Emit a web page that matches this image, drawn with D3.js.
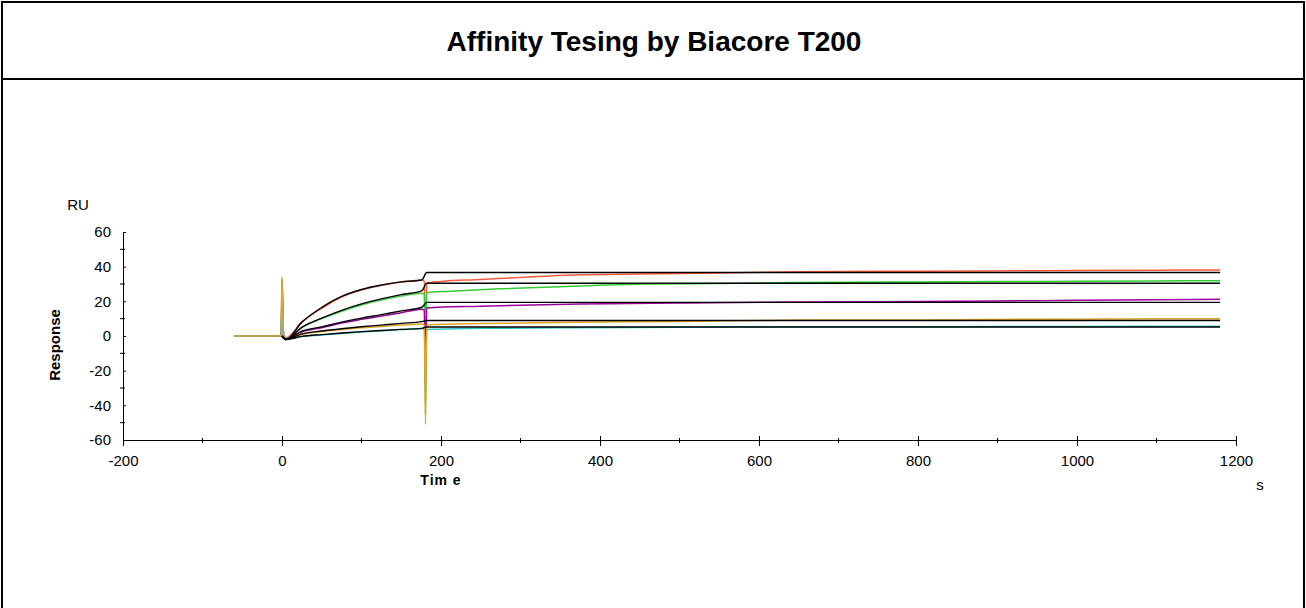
<!DOCTYPE html>
<html>
<head>
<meta charset="utf-8">
<script src="https://cdn.jsdelivr.net/npm/d3@7"></script>
<style>
  body { margin: 0; background: #fff; }
  svg { display: block; }
  text { font-family: "Liberation Sans", Arial, sans-serif; }
</style>
</head>
<body>
<div id="chart"></div>
<script>
// sensorgram traces [time s, response RU]
const redData = [[-60,0],[-1,0],[0,33],[2,1],[5,-1],[25,8],[50,16],[75,22.5],[100,26.5],[125,29.2],[150,31.1],[176,32.3],[179,31.5],[180.5,-12],[182,30.5],[200,31.5],[250,32.6],[300,33.8],[375,35.3],[450,35.8],[550,36.4],[651,37.1],[800,37.4],[950,37.7],[1100,38],[1180,38.1]];
const greenData = [[-60,0],[-1,0],[0,31],[2,0.5],[5,-1.5],[25,5],[50,10],[75,14.3],[100,17.9],[125,20.7],[150,23],[176,24.6],[179,24],[180.5,-45],[182,25],[212,25.8],[274,27.2],[375,28.8],[458,30],[550,30.3],[651,30.8],[800,31.2],[950,31.5],[1100,31.8],[1180,31.9]];
const purpleData = [[-60,0],[-1,0],[0,25],[2,0.5],[5,-1.5],[25,2.5],[50,4.8],[75,7.5],[100,9.6],[125,11.5],[150,13.4],[176,15.4],[179,15],[180.5,-25],[182,16.2],[250,17.2],[375,18.4],[500,19],[651,19.6],[800,19.9],[950,20.4],[1100,20.9],[1180,21.2]];
const orangeData = [[-60,0],[-1,0],[0,34],[2,0.5],[5,-1.5],[25,1],[50,2.6],[75,3.7],[100,4.7],[125,5.5],[150,6.3],[176,6.9],[179,6.5],[180.5,-51],[182,6.4],[250,7.2],[375,7.9],[500,8.4],[651,9.2],[800,9.3],[950,9.7],[1100,9.9],[1180,10]];
const cyanData = [[-60,0],[-1,0],[0,20],[2,0.3],[5,-1.5],[25,-0.3],[50,0.6],[75,1.5],[100,2.3],[125,3],[150,3.7],[176,4.3],[179,4],[180.5,-35],[182,3.8],[250,4.4],[375,4.8],[500,5],[651,5.4],[800,5.4],[950,5.5],[1100,5.6],[1180,5.6]];

// fitted curves
const redFit = [[0,0],[5,-2],[25,8],[50,16.5],[75,22.8],[100,26.8],[125,29.4],[150,31.2],[176,32.3],[182,36.6],[1180,36.6]];
const greenFit = [[0,0],[5,-2],[25,5],[50,10.3],[75,14.8],[100,18.5],[125,21.4],[150,23.9],[176,26],[182,30.4],[1180,30.4]];
const purpleFit = [[0,0],[5,-2],[25,2.8],[50,5.3],[75,8],[100,10.3],[125,12.3],[150,14.5],[176,16.6],[182,19.4],[1180,19.4]];
const orangeFit = [[0,0],[5,-2],[25,1.2],[50,2.9],[75,4.2],[100,5.3],[125,6.3],[150,7.3],[176,8.3],[182,8.9],[1180,8.9]];
const cyanFit = [[0,0],[5,-2],[25,-0.2],[50,0.8],[75,1.7],[100,2.5],[125,3.2],[150,3.8],[176,4.4],[182,5.2],[1180,5.2]];

const xTicks = [-200, 0, 200, 400, 600, 800, 1000, 1200];
const xMinor = [-100, 100, 300, 500, 700, 900, 1100];
const yTicks = [-60, -40, -20, 0, 20, 40, 60];
const yMinor = [-50, -30, -10, 10, 30, 50];

const traces = [
  { data: redData, color: "#ff5a3c" },
  { data: greenData, color: "#33cc33" },
  { data: purpleData, color: "#990099" },
  { data: cyanData, color: "#30c8c8" },
  { data: orangeData, color: "#e0a428" },
];
const fits = [redFit, greenFit, purpleFit, orangeFit, cyanFit];

const width = 1306, height = 608;
const svg = d3.select("#chart").append("svg")
  .attr("width", width).attr("height", height);

// frame
svg.append("path")
  .attr("d", `M2,${height} V2 H1304 V${height} M2,79 H1304`)
  .attr("fill", "none").attr("stroke", "#000").attr("stroke-width", 2);

svg.append("text")
  .attr("x", 654).attr("y", 51)
  .attr("text-anchor", "middle")
  .style("font-size", "28px").style("font-weight", "bold")
  .text("Affinity Tesing by Biacore T200");

const x = d3.scaleLinear().domain([-200, 1200]).range([123, 1236]);
const y = d3.scaleLinear().domain([-60, 60]).range([440, 232]);

// x axis
const gx = svg.append("g").attr("transform", `translate(0,${y(-60)})`);
gx.call(d3.axisBottom(x).tickValues(xTicks).tickSize(6).tickSizeOuter(0).tickPadding(9)
  .tickFormat(d => String(d)));
gx.selectAll(".tick line").attr("y1", -4);
gx.selectAll("text").style("font-size", "15px").attr("fill", "#000");
gx.selectAll(".domain").attr("stroke", "#000");
gx.append("g").selectAll("line").data(xMinor).join("line")
  .attr("x1", d => x(d)).attr("x2", d => x(d))
  .attr("y1", -2).attr("y2", 3).attr("stroke", "#000");

// y axis
const gy = svg.append("g").attr("transform", `translate(${x(-200)},0)`);
gy.call(d3.axisLeft(y).tickValues(yTicks).tickSize(7).tickSizeOuter(0).tickPadding(5)
  .tickFormat(d => String(d)));
gy.selectAll(".tick line").attr("x2", 3);
gy.selectAll("text").style("font-size", "15px").attr("fill", "#000");
gy.selectAll(".domain").attr("stroke", "#000");
gy.append("g").selectAll("line").data(yMinor).join("line")
  .attr("y1", d => y(d)).attr("y2", d => y(d))
  .attr("x1", -3).attr("x2", 2).attr("stroke", "#000");

// axis titles
svg.append("text").attr("x", 78).attr("y", 210).attr("text-anchor", "middle")
  .style("font-size", "15px").text("RU");
svg.append("text").attr("transform", "translate(60,345) rotate(-90)")
  .attr("text-anchor", "middle").style("font-size", "15px").style("font-weight", "bold")
  .text("Response");
svg.append("text").attr("x", 441).attr("y", 485).attr("text-anchor", "middle")
  .style("font-size", "14px").style("font-weight", "bold").style("letter-spacing", "1px")
  .text("Tim e");
svg.append("text").attr("x", 1260).attr("y", 490).attr("text-anchor", "middle")
  .style("font-size", "15px").text("s");

const line = d3.line().x(d => x(d[0])).y(d => y(d[1])).curve(d3.curveMonotoneX);

svg.append("g").selectAll("path").data(traces).join("path")
  .attr("d", d => line(d.data))
  .attr("fill", "none").attr("stroke", d => d.color).attr("stroke-width", 1.5);

svg.append("g").selectAll("path").data(fits).join("path")
  .attr("d", d => line(d))
  .attr("fill", "none").attr("stroke", "#000").attr("stroke-width", 1.4);
</script>
</body>
</html>
